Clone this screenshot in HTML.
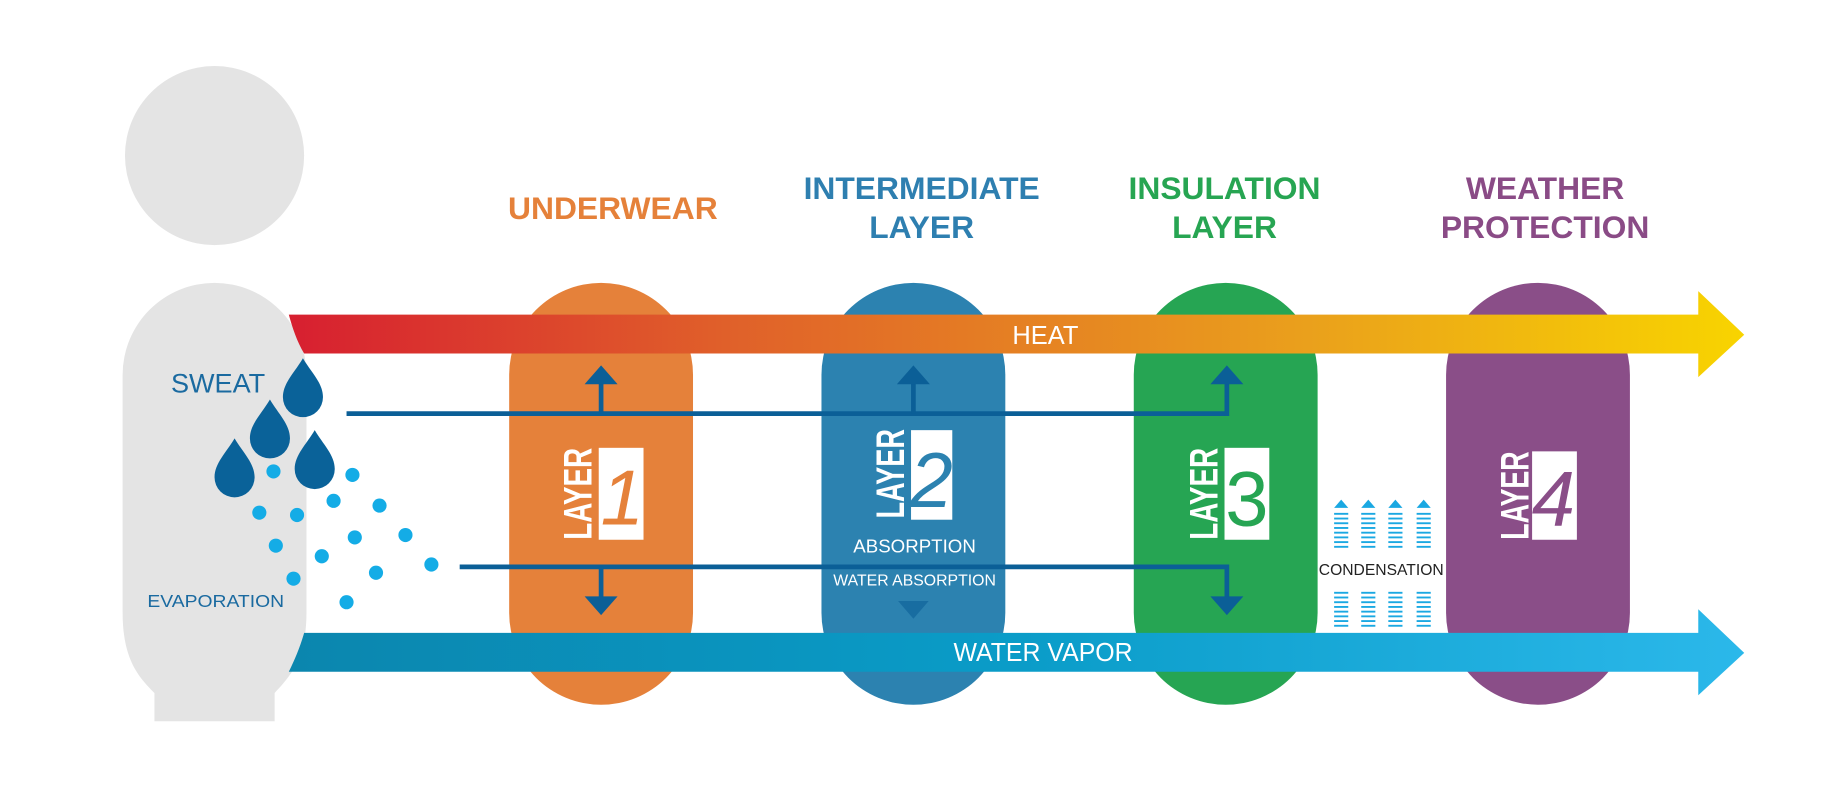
<!DOCTYPE html>
<html><head><meta charset="utf-8"><style>
html,body{margin:0;padding:0;background:#fff;width:1848px;height:789px;overflow:hidden}
svg{display:block}
text{font-family:"Liberation Sans",sans-serif}
</style></head><body>
<svg width="1848" height="789" viewBox="0 0 1568 669.5" xmlns="http://www.w3.org/2000/svg">
<defs>
<linearGradient id="heat" x1="0" x2="1"><stop offset="0" stop-color="#d71f30"/><stop offset="0.3" stop-color="#e0602a"/><stop offset="0.7" stop-color="#eaa01c"/><stop offset="1" stop-color="#f8d400"/></linearGradient>
<linearGradient id="vap" x1="0" x2="1"><stop offset="0" stop-color="#0b86ae"/><stop offset="0.5" stop-color="#0a9cc8"/><stop offset="1" stop-color="#2bb8ea"/></linearGradient>
<g id="drop"><path d="M0,-26 C7,-14 17,-5 17,7 A17,17 0 0 1 -17,7 C-17,-5 -7,-14 0,-26Z" fill="#0a6299"/></g>
<g id="dash"><g stroke="#1aa8e2" stroke-width="1.6"><line x1="-6" x2="6" y1="0" y2="0"/><line x1="-6" x2="6" y1="4" y2="4"/><line x1="-6" x2="6" y1="8" y2="8"/><line x1="-6" x2="6" y1="12" y2="12"/><line x1="-6" x2="6" y1="16" y2="16"/><line x1="-6" x2="6" y1="20" y2="20"/><line x1="-6" x2="6" y1="24" y2="24"/><line x1="-6" x2="6" y1="28" y2="28"/></g></g>
</defs>
<circle cx="182" cy="132" r="76" fill="#e4e4e4"/>
<path d="M104,318 A78,78 0 0 1 260,318 L260,520 C260,560 245,575 233,588 L233,612 L131,612 L131,588 C118,575 104,560 104,520Z" fill="#e4e4e4"/>
<rect x="432" y="240" width="156" height="358" rx="78" fill="#e5813a"/>
<rect x="697" y="240" width="156" height="358" rx="78" fill="#2c82b0"/>
<rect x="962" y="240" width="156" height="358" rx="78" fill="#26a553"/>
<rect x="1227" y="240" width="156" height="358" rx="78" fill="#8a4e88"/>
<path d="M245,267 L1441,267 L1441,247 L1480,284 L1441,320 L1441,300 L258,300 C252,290 248,278 245,267Z" fill="url(#heat)"/>
<text x="887" y="292" font-size="22" fill="#fff" text-anchor="middle" textLength="56" lengthAdjust="spacingAndGlyphs">HEAT</text>
<path d="M258,537 L1441,537 L1441,517 L1480,554 L1441,590 L1441,570 L245,570 C250,560 255,548 258,537Z" fill="url(#vap)"/>
<text x="885" y="561" font-size="22" fill="#fff" text-anchor="middle" textLength="152" lengthAdjust="spacingAndGlyphs">WATER VAPOR</text>
<g font-weight="bold" font-size="27" text-anchor="middle">
<text x="520" y="186" fill="#e5813a">UNDERWEAR</text>
<text x="782" y="169" fill="#2e7fb0">INTERMEDIATE</text><text x="782" y="202" fill="#2e7fb0">LAYER</text>
<text x="1039" y="169" fill="#27a552">INSULATION</text><text x="1039" y="202" fill="#27a552">LAYER</text>
<text x="1311" y="169" fill="#8a4b86">WEATHER</text><text x="1311" y="202" fill="#8a4b86">PROTECTION</text>
</g>
<g stroke="#0b5f97" stroke-width="4" fill="none">
<path d="M294,351 L1041,351 L1041,322"/>
<line x1="510" y1="351" x2="510" y2="322"/>
<line x1="775" y1="351" x2="775" y2="322"/>
<path d="M390,481 L1041,481 L1041,510"/>
<line x1="510" y1="481" x2="510" y2="510"/>
</g>
<g fill="#0b5f97">
<polygon points="496,326 510,310 524,326"/><polygon points="761,326 775,310 789,326"/><polygon points="1027,326 1041,310 1055,326"/>
<polygon points="496,506 510,522 524,506"/><polygon points="1027,506 1041,522 1055,506"/>
<polygon points="762,510 775,525 788,510" opacity="0.6"/>
</g>
<g font-weight="bold" font-size="34" fill="#fff">
<text transform="translate(502,458) rotate(-90)" textLength="78" lengthAdjust="spacingAndGlyphs">LAYER</text>
<text transform="translate(767,440) rotate(-90)" textLength="76" lengthAdjust="spacingAndGlyphs">LAYER</text>
<text transform="translate(1033,458) rotate(-90)" textLength="78" lengthAdjust="spacingAndGlyphs">LAYER</text>
<text transform="translate(1297,458) rotate(-90)" textLength="75" lengthAdjust="spacingAndGlyphs">LAYER</text>
</g>
<rect x="508" y="380" width="38" height="78" fill="#fff"/>
<rect x="773" y="365" width="35" height="76" fill="#fff"/>
<rect x="1039" y="380" width="38" height="78" fill="#fff"/>
<rect x="1300" y="383" width="38" height="75" fill="#fff"/>
<g font-family="Liberation Serif" font-style="italic" font-size="66" text-anchor="middle">
<text x="528" y="445" fill="#e5813a">1</text>
<text x="790" y="430" fill="#2c82b0">2</text>
<text x="1058" y="446" fill="#26a553" font-style="normal">3</text>
<text x="1318" y="446" fill="#8a4e88">4</text>
</g>
<text x="776" y="469" font-size="16" fill="#fff" text-anchor="middle" textLength="104" lengthAdjust="spacingAndGlyphs">ABSORPTION</text>
<text x="776" y="497" font-size="13" fill="#fff" text-anchor="middle" textLength="138" lengthAdjust="spacingAndGlyphs">WATER ABSORPTION</text>
<g fill="#1aa8e2"><polygon points="1132,431 1138,424 1144,431"/><polygon points="1155,431 1161,424 1167,431"/><polygon points="1178,431 1184,424 1190,431"/><polygon points="1202,431 1208,424 1214,431"/></g>
<use href="#dash" x="1138" y="436"/><use href="#dash" x="1161" y="436"/><use href="#dash" x="1184" y="436"/><use href="#dash" x="1208" y="436"/>
<use href="#dash" x="1138" y="503"/><use href="#dash" x="1161" y="503"/><use href="#dash" x="1184" y="503"/><use href="#dash" x="1208" y="503"/>
<text x="1172" y="488" font-size="13" fill="#222" text-anchor="middle" textLength="106" lengthAdjust="spacingAndGlyphs">CONDENSATION</text>
<text x="185" y="333" font-size="23" fill="#1a6aa0" text-anchor="middle" textLength="80" lengthAdjust="spacingAndGlyphs">SWEAT</text>
<use href="#drop" x="257" y="330"/><use href="#drop" x="229" y="365"/><use href="#drop" x="267" y="391"/><use href="#drop" x="199" y="398"/>
<g fill="#14ace6">
<circle cx="232" cy="400" r="6"/><circle cx="299" cy="403" r="6"/><circle cx="220" cy="435" r="6"/><circle cx="252" cy="437" r="6"/><circle cx="283" cy="425" r="6"/><circle cx="322" cy="429" r="6"/>
<circle cx="234" cy="463" r="6"/><circle cx="301" cy="456" r="6"/><circle cx="344" cy="454" r="6"/><circle cx="273" cy="472" r="6"/><circle cx="366" cy="479" r="6"/>
<circle cx="249" cy="491" r="6"/><circle cx="319" cy="486" r="6"/><circle cx="294" cy="511" r="6"/>
</g>
<text x="183" y="515" font-size="15" fill="#1a6aa0" text-anchor="middle" textLength="116" lengthAdjust="spacingAndGlyphs">EVAPORATION</text>
</svg>
</body></html>
